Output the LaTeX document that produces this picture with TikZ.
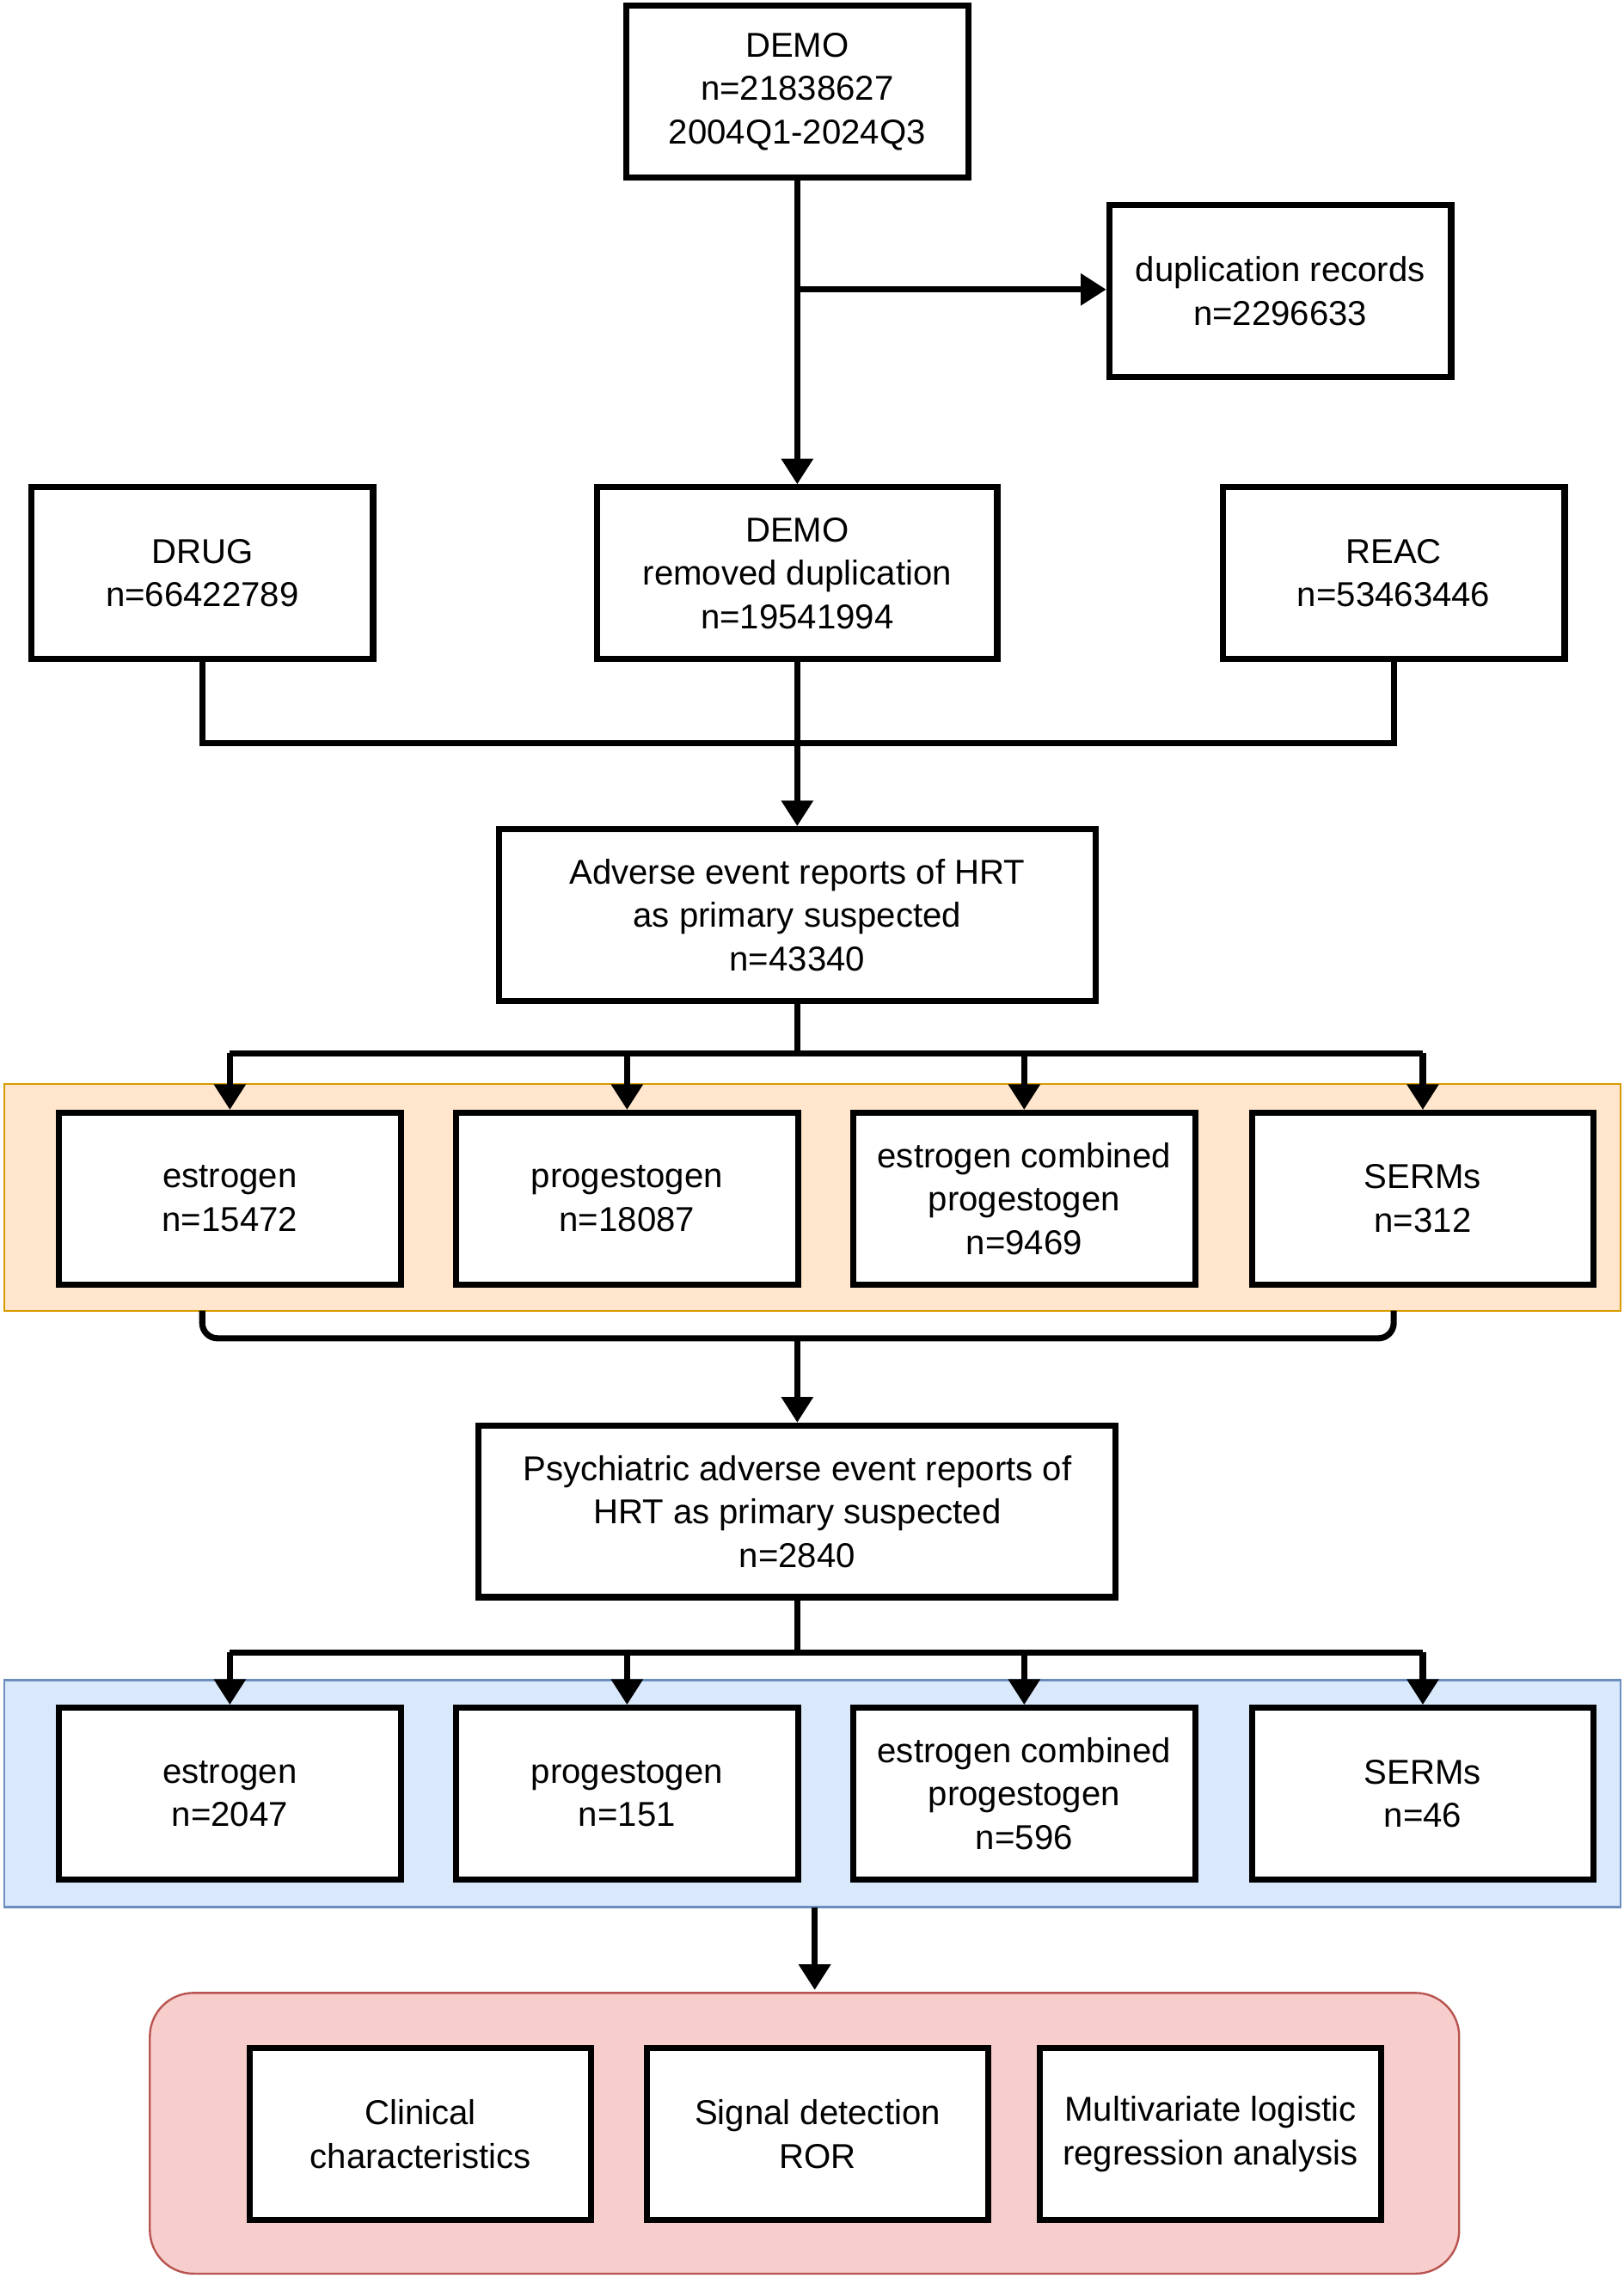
\documentclass[tikz,border=0pt]{standalone}
\usepackage{fontspec}
\setmainfont{Liberation Sans}
\usetikzlibrary{arrows.meta}
\tikzset{
  box/.style={draw, fill=white, line width=2.4pt, minimum width=4.7cm, minimum height=2.36cm,
    align=center, font=\fontsize{13.5}{17}\selectfont, inner sep=2pt},
  link/.style={line width=2.4pt},
  arr/.style={line width=2.4pt, -{Triangle[length=10pt,width=12pt]}},
}
\begin{document}
\begin{tikzpicture}[x=0.02cm,y=-0.02cm]
  \useasboundingbox (0,0) rectangle (1116,1566);
  % coloured bands
  \draw[fill={rgb,255:red,255;green,230;blue,204}, draw={rgb,255:red,215;green,155;blue,0}, line width=0.8pt]
    (3,745) rectangle (1114,901);
  \draw[fill={rgb,255:red,218;green,232;blue,252}, draw={rgb,255:red,108;green,142;blue,191}, line width=0.8pt]
    (3,1155) rectangle (1114,1311);
  \draw[fill={rgb,255:red,248;green,206;blue,204}, draw={rgb,255:red,184;green,84;blue,80}, line width=0.8pt, rounded corners=0.6cm]
    (103,1370) rectangle (1003,1563);

  % source tables
  \node[box] (demo) at (548,63) {DEMO\\n=21838627\\2004Q1-2024Q3};
  \node[box] (dup) at (880,200) {duplication records\\n=2296633};
  \node[box] (drug) at (139,394) {DRUG\\n=66422789};
  \node[box, minimum width=5.5cm] (demor) at (548,394) {DEMO\\removed duplication\\n=19541994};
  \node[box] (reac) at (958,394) {REAC\\n=53463446};
  \node[box, minimum width=8.2cm] (hrt) at (548,629) {Adverse event reports of HRT\\as primary suspected\\n=43340};

  % first drug row
  \node[box] (est1) at (158,824) {estrogen\\n=15472};
  \node[box] (pro1) at (431,824) {progestogen\\n=18087};
  \node[box] (comb1) at (704,824) {estrogen combined\\progestogen\\n=9469};
  \node[box] (serm1) at (978,824) {SERMs\\n=312};

  \node[box, minimum width=8.76cm] (psy) at (548,1039) {Psychiatric adverse event reports of\\HRT as primary suspected\\n=2840};

  % second drug row
  \node[box] (est2) at (158,1233) {estrogen\\n=2047};
  \node[box] (pro2) at (431,1233) {progestogen\\n=151};
  \node[box] (comb2) at (704,1233) {estrogen combined\\progestogen\\n=596};
  \node[box] (serm2) at (978,1233) {SERMs\\n=46};

  % analyses
  \node[box] (clin) at (289,1467) {Clinical\\characteristics};
  \node[box] (ror) at (562,1467) {Signal detection\\ROR};
  \node[box] (mlr) at (832,1467) {Multivariate logistic\\regression analysis};

  % connectors
  \coordinate (j1) at (548,199);
  \draw[arr] (demo) -- (demor);
  \draw[arr] (j1) -- (j1 -| dup.west);
  \draw[link] (drug.south) |- (548,511) -| (reac.south);
  \draw[arr] (demor) -- (hrt);
  \coordinate (j2) at (548,724);
  \draw[link] (hrt.south) -- (j2);
  \draw[link] (est1.north |- j2) -- (serm1.north |- j2);
  \foreach \b in {est1,pro1,comb1,serm1}
    \draw[arr] (\b.north |- j2) -- (\b.north);
  \coordinate (j3) at (548,920);
  \draw[link, rounded corners=6pt] (139,901) |- (j3) -| (958,901);
  \draw[arr] (j3) -- (psy.north);
  \coordinate (j4) at (548,1136);
  \draw[link] (psy.south) -- (j4);
  \draw[link] (est2.north |- j4) -- (serm2.north |- j4);
  \foreach \b in {est2,pro2,comb2,serm2}
    \draw[arr] (\b.north |- j4) -- (\b.north);
  \coordinate (j5) at (560,1311);
  \draw[arr] (j5) -- (560,1368);
\end{tikzpicture}
\end{document}
